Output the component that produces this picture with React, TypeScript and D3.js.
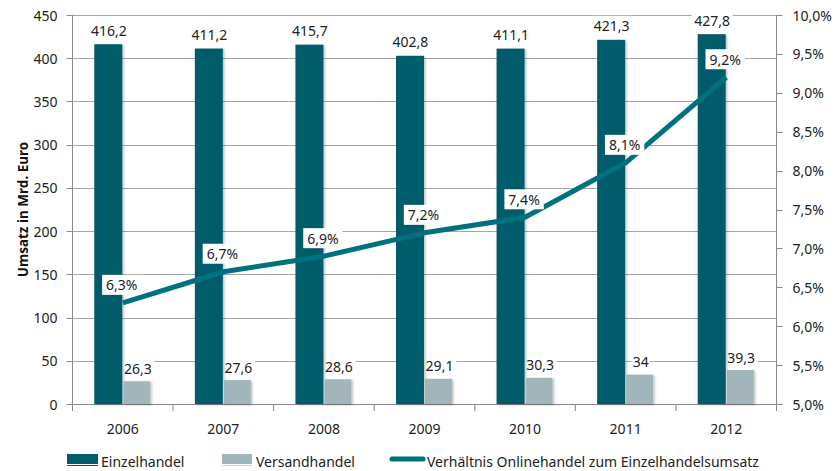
import React from "react";
import * as d3 from "d3";

const years = ["2006", "2007", "2008", "2009", "2010", "2011", "2012"];
const einzelhandel = [416.2, 411.2, 415.7, 402.8, 411.1, 421.3, 427.8];
const versandhandel = [26.3, 27.6, 28.6, 29.1, 30.3, 34, 39.3];
const verhaeltnis = [6.3, 6.7, 6.9, 7.2, 7.4, 8.1, 9.2];
const leftTicks = [0, 50, 100, 150, 200, 250, 300, 350, 400, 450];
const rightTicks = [5.0, 5.5, 6.0, 6.5, 7.0, 7.5, 8.0, 8.5, 9.0, 9.5, 10.0];

const W = 834;
const H = 471;
const M = { left: 72.5, right: 776.5, top: 15, bottom: 404 };

const C_EINZEL = "#005c6b";
const C_VERSAND = "#a2b5bb";
const C_LINE = "#00717f";
const C_GRID = "#a6a6a6";
const FONT = "'Noto Sans', 'DejaVu Sans', sans-serif";

const fmt = (v: number) => String(v).replace(".", ",");
const fmtPct = (v: number) => v.toFixed(1).replace(".", ",") + "%";

const boxW = (text: string, size: number, pad: number) => text.length * size * 0.56 + pad;

function LabelBox({ x, y, text, size = 14, pad = 8 }: { x: number; y: number; text: string; size?: number; pad?: number }) {
  const w = boxW(text, size, pad);
  return <rect x={x - w / 2} y={y - 10} width={w} height={20} fill="#fff" />;
}

function LabelText({ x, y, text, size = 14 }: { x: number; y: number; text: string; size?: number }) {
  return (
    <text x={x} y={y} textAnchor="middle" dominantBaseline="central" fontSize={size} fill="#222">
      {text}
    </text>
  );
}

export default function App() {
  const x = d3.scaleBand<string>().domain(years).range([M.left, M.right]).padding(0);
  const yL = d3.scaleLinear().domain([0, 450]).range([M.bottom, M.top]);
  const yR = d3.scaleLinear().domain([5, 10]).range([M.bottom, M.top]);
  const bw = 28;
  const gap = 1;
  const cx = (yr: string) => x(yr)! + x.bandwidth() / 2;

  const line = d3
    .line<number>()
    .x((_, i) => cx(years[i]))
    .y((d) => yR(d));

  const barLabels = years.flatMap((yr, i) => [
    { key: yr + "e", x: cx(yr) - bw / 2, y: yL(einzelhandel[i]) - 14, text: fmt(einzelhandel[i]) },
    { key: yr + "v", x: cx(yr) + bw / 2 + 1, y: yL(versandhandel[i]) - 13, text: fmt(versandhandel[i]) },
  ]);

  return (
    <svg width={W} height={H} style={{ position: "absolute", left: 0, top: 0 }} fontFamily={FONT}>
      <defs>
        <filter id="shadow" x="-20%" y="-5%" width="150%" height="110%">
          <feDropShadow dx="1.5" dy="1" stdDeviation="1" floodColor="#000" floodOpacity="0.25" />
        </filter>
      </defs>
      <rect width={W} height={H} fill="#fff" />

      {/* gridlines */}
      {leftTicks.map((t) => (
        <line key={t} x1={M.left} x2={M.right} y1={Math.round(yL(t)) + 0.5} y2={Math.round(yL(t)) + 0.5} stroke={C_GRID} strokeWidth={1} />
      ))}

      {/* axes */}
      <line x1={M.left} x2={M.left} y1={M.top} y2={M.bottom + 7} stroke="#888" />
      <line x1={M.right} x2={M.right} y1={M.top} y2={M.bottom + 7} stroke="#888" />
      <line x1={M.left} x2={M.right} y1={M.bottom + 0.5} y2={M.bottom + 0.5} stroke="#888" />
      {leftTicks.map((t) => (
        <g key={t}>
          <line x1={M.left - 6} x2={M.left} y1={Math.round(yL(t)) + 0.5} y2={Math.round(yL(t)) + 0.5} stroke="#888" />
          <text x={M.left - 15} y={yL(t)} textAnchor="end" dominantBaseline="central" fontSize={14} fill="#222">
            {t}
          </text>
        </g>
      ))}
      {rightTicks.map((t) => (
        <g key={t}>
          <line x1={M.right} x2={M.right + 6} y1={Math.round(yR(t)) + 0.5} y2={Math.round(yR(t)) + 0.5} stroke="#888" />
          <text x={M.right + 16} y={yR(t)} textAnchor="start" dominantBaseline="central" fontSize={14} fill="#222">
            {fmtPct(t)}
          </text>
        </g>
      ))}
      {years.map((yr, i) => (
        <g key={yr}>
          {i > 0 && <line x1={x(yr)!} x2={x(yr)!} y1={M.bottom} y2={M.bottom + 7} stroke="#888" />}
          <text x={cx(yr)} y={428} textAnchor="middle" dominantBaseline="central" fontSize={14} fill="#222">
            {yr}
          </text>
        </g>
      ))}

      <text
        transform={`translate(23,${(M.top + M.bottom) / 2}) rotate(-90)`}
        textAnchor="middle"
        dominantBaseline="central"
        fontSize={13.5}
        fontWeight="bold"
        fill="#111"
      >
        Umsatz in Mrd. Euro
      </text>

      {/* bar label backgrounds sit under the bars so they only mask gridlines */}
      {barLabels.map((l) => (
        <LabelBox key={l.key} x={l.x} y={l.y} text={l.text} pad={2} />
      ))}

      {/* bars */}
      {years.map((yr, i) => (
        <g key={yr} filter="url(#shadow)">
          <rect x={cx(yr) - bw - gap / 2} y={yL(einzelhandel[i])} width={bw} height={M.bottom - yL(einzelhandel[i])} fill={C_EINZEL} />
          <rect x={cx(yr) + gap / 2} y={yL(versandhandel[i])} width={bw - 1} height={M.bottom - yL(versandhandel[i])} fill={C_VERSAND} />
        </g>
      ))}

      {barLabels.map((l) => (
        <LabelText key={l.key} x={l.x} y={l.y} text={l.text} />
      ))}

      {/* ratio line */}
      <path d={line(verhaeltnis) ?? ""} fill="none" stroke={C_LINE} strokeWidth={5} strokeLinejoin="round" />
      {years.map((yr, i) => (
        <g key={yr}>
          <LabelBox x={cx(yr) - 1} y={yR(verhaeltnis[i]) - 18} text={fmtPct(verhaeltnis[i])} pad={8} />
          <LabelText x={cx(yr) - 1} y={yR(verhaeltnis[i]) - 18} text={fmtPct(verhaeltnis[i])} />
        </g>
      ))}

      {/* legend */}
      <g fontSize={14} fill="#222">
        <rect x={67} y={454} width={31} height={10} fill={C_EINZEL} />
        <line x1={67} x2={98} y1={465.5} y2={465.5} stroke={C_EINZEL} strokeWidth={1} />
        <text x={101} y={461} dominantBaseline="central">Einzelhandel</text>
        <rect x={222} y={454} width={30} height={10} fill={C_VERSAND} />
        <line x1={222} x2={252} y1={465.5} y2={465.5} stroke="#c8d4d8" strokeWidth={1} />
        <text x={256} y={461} dominantBaseline="central">Versandhandel</text>
        <line x1={392} x2={423} y1={459} y2={459} stroke={C_LINE} strokeWidth={5} strokeLinecap="round" />
        <text x={427} y={461} dominantBaseline="central">Verhältnis Onlinehandel zum Einzelhandelsumsatz</text>
      </g>
    </svg>
  );
}
